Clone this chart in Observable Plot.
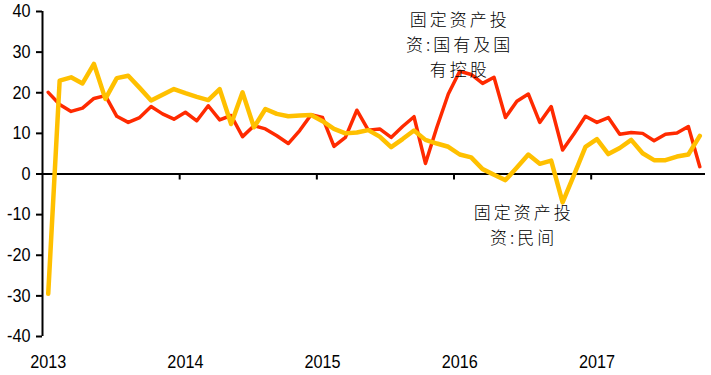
<!DOCTYPE html>
<html><head><meta charset="utf-8">
<script src="https://cdn.jsdelivr.net/npm/d3@7"></script>
<script src="https://cdn.jsdelivr.net/npm/@observablehq/plot@0.6"></script>
<style>
body{margin:0;background:#fff;}
#chart svg{display:block;}
g[font-family*="Noto"] text{letter-spacing:3px;}
</style></head><body><div id="chart"></div>
<script>
// Monthly series, Jan 2013 – Oct 2017 (58 months)
const stateOwned = [20.1,17.1,15.4,16.2,18.6,19.3,14.2,12.7,13.9,16.6,14.8,13.5,
  15.2,13.1,16.8,13.3,14.4,9.2,11.9,11.1,9.4,7.5,10.7,14.6,
  13.9,6.8,9.0,15.7,10.8,11.1,9.0,11.7,14.1,2.6,11.5,19.7,
  25.3,24.5,22.3,23.8,13.9,17.9,19.7,12.7,16.6,5.9,9.9,14.2,
  12.7,13.9,9.8,10.2,10.0,8.2,9.8,10.1,11.7,1.8];
const privateInv = [-29.5,23.0,23.8,22.3,27.1,18.5,23.6,24.2,21.2,18.1,19.5,20.9,
  19.9,19.0,18.2,20.9,12.3,20.1,11.5,16.0,14.8,14.2,14.4,14.5,
  13.0,11.1,10.0,10.2,10.8,9.2,6.6,8.6,10.7,8.4,7.5,6.7,
  4.8,4.1,1.2,-0.2,-1.5,1.6,4.8,2.5,3.3,-7.0,-0.2,6.7,
  8.6,4.9,6.4,8.4,5.1,3.4,3.4,4.3,4.8,9.4];
const yearLabels = ["2013","2014","2015","2016","2017"];
const yearStartIdx = [0,12,24,36,48];
const yearBoundaries = [11.5,23.5,35.5,47.5];
const yTicks = [-40,-30,-20,-10,0,10,20,30,40];
const annotations = [
  {i:36, v:32.3, text:"固定资产投\n资:国有及国\n有控股"},
  {i:41.6, v:-12.2, text:"固定资产投\n资:民间"}
];

const data = stateOwned.map((s, i) => ({i, state: s, priv: privateInv[i]}));

const chart = Plot.plot({
  width: 711, height: 375,
  marginLeft: 42, marginRight: 6, marginTop: 11, marginBottom: 39,
  x: {domain: [-0.5, 57.5]},
  y: {domain: [-40, 40]},
  style: {fontFamily: "'Liberation Sans Narrow','Arial Narrow','Liberation Sans',sans-serif", fontSize: "18px", color: "#000", background: "#fff"},
  marks: [
    Plot.axisY({ticks: yTicks, tickSize: 6, tickPadding: 6, strokeWidth: 2, label: null, tickFormat: d => String(d)}),
    Plot.axisX({ticks: yearStartIdx, tickSize: 0, tickPadding: 19, label: null, tickFormat: d => yearLabels[yearStartIdx.indexOf(d)]}),
    Plot.ruleX([-0.5], {stroke: "#000", strokeWidth: 2}),
    Plot.ruleY([0], {stroke: "#000", strokeWidth: 2}),
    Plot.ruleX(yearBoundaries, {y1: 0, y2: 0, insetBottom: -6, stroke: "#000", strokeWidth: 2}),
    Plot.line(data, {x: "i", y: "state", stroke: "#ff2a00", strokeWidth: 3.5}),
    Plot.line(data, {x: "i", y: "priv", stroke: "#ffc000", strokeWidth: 4.5}),
    Plot.text(annotations, {x: "i", y: "v", text: "text", fontFamily: "'Noto Sans CJK SC',sans-serif", fontWeight: 300, fontSize: 17, lineHeight: 1.49, lineAnchor: "middle", fill: "#000"})
  ]
});
document.getElementById("chart").appendChild(chart);
// condense tick labels horizontally (reference uses a narrow face)
d3.select(chart).selectAll('g[aria-label="y-axis tick label"] text, g[aria-label="x-axis tick label"] text').each(function() {
  const w = this.getComputedTextLength();
  if (w > 0) {
    this.setAttribute("textLength", (w * 0.9).toFixed(2));
    this.setAttribute("lengthAdjust", "spacingAndGlyphs");
  }
});
</script></body></html>
